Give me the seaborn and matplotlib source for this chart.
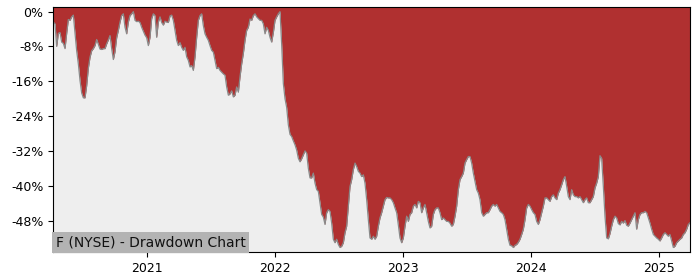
import matplotlib
matplotlib.use("Agg")
import matplotlib.pyplot as plt
import matplotlib.dates as mdates
from matplotlib.ticker import FuncFormatter
import numpy as np
import pandas as pd
import seaborn as sns

# ---- data (drawdown in %) ----
start_date = "2020-04-08"
end_date = "2025-03-30"
drawdown = [
    -2.4, -2.8, -8.0, -5.0, -4.8, -7.0, -7.3, -8.5, -5.0, -1.8,
    -2.0, -1.2, -0.8, -5.0, -9.0, -12.0, -15.8, -18.7, -19.8, -19.8,
    -17.0, -13.0, -10.5, -9.0, -8.5, -7.8, -6.4, -7.5, -8.6, -8.7,
    -8.5, -8.5, -7.4, -6.5, -5.5, -8.5, -11.0, -9.2, -6.0, -4.3,
    -2.4, -0.9, -0.5, -3.6, -5.1, -2.4, -0.9, -0.5, 0.0, -2.0,
    -2.3, -2.2, -2.5, -3.6, -4.5, -5.4, -6.0, -7.8, -5.9, -1.6,
    -0.5, -0.9, -5.9, -2.4, -1.2, -2.5, -3.1, -2.2, -2.4, -2.5,
    -1.0, -0.8, -2.0, -4.3, -6.6, -7.8, -7.1, -8.2, -8.9, -8.2,
    -10.4, -11.2, -12.7, -12.4, -13.5, -10.4, -5.9, -2.0, -0.9, -0.5,
    -3.2, -5.1, -5.9, -6.6, -7.8, -8.9, -9.3, -11.2, -13.1, -12.8,
    -13.5, -13.9, -14.3, -14.6, -17.3, -19.2, -18.9, -18.2, -19.6, -19.2,
    -17.3, -18.5, -15.0, -12.0, -9.6, -6.6, -4.3, -3.6, -1.7, -2.0,
    -0.9, -0.5, -1.2, -1.6, -2.0, -2.0, -2.8, -5.1, -3.6, -4.3,
    -5.9, -7.0, -4.8, -2.0, -1.2, -0.5, 0.0, -7.5, -16.5, -20.0,
    -22.0, -26.0, -28.2, -28.7, -29.7, -30.6, -31.8, -33.7, -34.5, -33.8,
    -32.9, -32.0, -32.5, -36.0, -38.2, -38.2, -37.1, -39.4, -40.9, -41.3,
    -43.9, -46.6, -47.2, -48.9, -46.2, -45.5, -45.9, -48.6, -52.3, -53.1,
    -52.3, -53.5, -54.2, -53.9, -53.1, -50.8, -49.3, -44.7, -40.2, -38.6,
    -36.3, -34.8, -35.6, -36.7, -37.1, -37.9, -37.5, -39.4, -43.2, -47.8,
    -52.0, -52.3, -51.6, -52.3, -51.6, -49.3, -47.4, -46.2, -44.7, -43.2,
    -42.7, -42.8, -42.8, -43.2, -43.9, -45.1, -46.2, -49.0, -52.0, -53.1,
    -52.0, -49.3, -47.0, -48.2, -46.6, -46.2, -44.7, -44.3, -45.1, -43.6,
    -43.9, -46.2, -45.1, -44.3, -46.2, -48.2, -49.7, -49.3, -46.6, -45.5,
    -45.1, -45.1, -46.2, -47.8, -47.4, -47.8, -48.2, -48.2, -48.6, -49.3,
    -48.9, -47.0, -44.7, -40.9, -38.6, -37.9, -37.1, -34.8, -34.0, -33.3,
    -33.3, -34.8, -37.1, -39.0, -40.9, -41.7, -43.2, -46.2, -47.0, -46.6,
    -46.2, -46.2, -45.5, -44.7, -44.3, -44.7, -44.3, -45.1, -45.9, -46.2,
    -46.6, -47.8, -50.0, -52.3, -53.7, -53.8, -54.2, -53.7, -53.5, -53.0,
    -52.3, -51.2, -50.0, -47.8, -45.1, -44.3, -44.7, -45.5, -46.2, -46.6,
    -48.2, -48.9, -47.8, -46.2, -44.7, -42.8, -42.8, -43.2, -43.6, -42.5,
    -42.1, -42.8, -43.2, -41.7, -40.9, -39.8, -38.6, -37.9, -40.1, -42.5,
    -43.2, -40.9, -42.1, -42.5, -42.5, -42.8, -42.5, -43.2, -43.9, -43.2,
    -42.8, -43.9, -43.9, -43.2, -42.5, -40.5, -39.4, -37.9, -33.1, -33.7,
    -40.1, -47.0, -52.0, -52.2, -51.0, -49.3, -47.8, -47.0, -47.4, -48.7,
    -49.0, -48.2, -48.6, -48.0, -49.1, -49.3, -48.6, -47.8, -47.0, -46.2,
    -50.0, -47.8, -46.6, -46.2, -46.2, -45.9, -46.2, -47.4, -48.6, -50.0,
    -51.2, -51.6, -52.0, -52.3, -52.7, -52.0, -51.2, -50.8, -51.2, -51.6,
    -51.2, -52.7, -54.2, -53.9, -53.1, -52.7, -52.3, -52.0, -51.2, -50.8,
    -50.0, -48.9, -48.5,
]
y_ticks = [0, -8, -16, -24, -32, -40, -48]
x_tick_years = [2021, 2022, 2023, 2024, 2025]
title_text = "F (NYSE) - Drawdown Chart"

dates = pd.date_range(start_date, end_date, periods=len(drawdown))
df = pd.DataFrame({"date": dates, "dd": drawdown})

# ---- figure ----
fig = plt.figure(figsize=(7, 2.8), dpi=100)
ax = fig.add_axes([0.0762, 0.0989, 0.9095, 0.8751])

red = "#b03030"
ax.set_facecolor(red)
y_low, y_high = -55.3, 1.0

ax.fill_between(df["date"], df["dd"], y_low, color="#eeeeee", linewidth=0, zorder=1)
sns.lineplot(data=df, x="date", y="dd", ax=ax, color="#8a8a8a", linewidth=0.9, zorder=2)

ax.set_xlim(df["date"].iloc[0], df["date"].iloc[-1])
ax.set_ylim(y_low, y_high)

ax.set_yticks(y_ticks)
ax.yaxis.set_major_formatter(FuncFormatter(lambda v, p: f"{v:.0f}%"))
ax.set_xticks([pd.Timestamp(f"{y}-01-01") for y in x_tick_years])
ax.set_xticklabels([str(y) for y in x_tick_years])
ax.tick_params(labelsize=9)
ax.set_xlabel("")
ax.set_ylabel("")

ax.text(0.004, 0.012, title_text, transform=ax.transAxes, fontsize=10,
        ha="left", va="bottom", color="#111111", zorder=5,
        bbox=dict(facecolor="#b3b3b3", edgecolor="none", pad=2.5))

fig.savefig("out.png", dpi=100)
